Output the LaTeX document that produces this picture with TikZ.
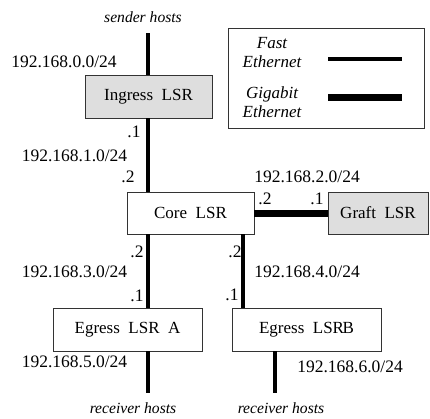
\documentclass[tikz,border=0pt]{standalone}
\usepackage{fontspec}
\setmainfont{Liberation Serif}
\begin{document}
\begin{tikzpicture}[x=1pt,y=-1pt,
  every node/.style={font=\fontsize{17.5}{19}\selectfont, inner sep=0pt},
  router/.style={draw=black!80, line width=0.8pt, minimum height=43pt, font=\fontsize{17}{19}\selectfont},
  graybox/.style={router, fill=black!13},
  fe/.style={line width=4pt},
  ge/.style={line width=7pt},
  addr/.style={anchor=center},
  host/.style={font=\itshape\fontsize{15.6}{17}\selectfont},
  legendtext/.style={font=\itshape\fontsize{17}{19}\selectfont, align=center}]
\useasboundingbox (0,0) rectangle (430,418);

% routers
\node[graybox, minimum width=127pt] (ingress) at (148.5,96.5) {Ingress\ \ LSR};
\node[router, minimum width=127pt, minimum height=42pt] (core) at (190.5,213) {Core\ \ LSR};
\node[graybox, minimum width=100pt, minimum height=42pt] (graft) at (378,213) {Graft\ \ LSR};
\node[router, minimum width=149pt] (egressA) at (127.5,329.5) {Egress\ \ LSR\ \ A};
\node[router, minimum width=149pt] (egressB) at (306.5,329.5) {Egress\ \ LSR\kern-1.5pt B};

% free ends of the host segments
\coordinate (sendtop) at (148,33);
\coordinate (recvA) at (148,393);
\coordinate (recvB) at (275,393);

% links
\draw[fe] (sendtop) -- (sendtop |- ingress.north);
\draw[fe] (ingress.south -| sendtop) -- (core.north -| sendtop);
\draw[ge] (core.east) -- (graft.west);
\draw[fe] (core.south -| sendtop) -- (egressA.north -| sendtop);
\coordinate (bx) at (243,0);
\draw[fe] (core.south -| bx) -- (egressB.north -| bx);
\draw[fe] (egressA.south -| recvA) -- (recvA);
\draw[fe] (egressB.south -| recvB) -- (recvB);

% host labels
\node[host] (snd) at (143,17) {sender hosts};
\node[host] (rcvA) at (133,408) {receiver hosts};
\node[host] (rcvB) at (281,408) {receiver hosts};

% subnets
\node[addr] (n0) at (64,62) {192.168.0.0/24};
\node[addr] (n1) at (74.5,156) {192.168.1.0/24};
\node[addr] (n2) at (307,177) {192.168.2.0/24};
\node[addr] (n3) at (74.5,272) {192.168.3.0/24};
\node[addr] (n4) at (307,272) {192.168.4.0/24};
\node[addr] (n5) at (74.5,362) {192.168.5.0/24};
\node[addr] (n6) at (350,367) {192.168.6.0/24};

% interface addresses
\node (i1) at (134,132) {.1};
\node (i2) at (128,177) {.2};
\node (i3) at (265,199) {.2};
\node (i4) at (317,199) {.1};
\node (i5) at (137,252) {.2};
\node (i6) at (235,252) {.2};
\node (i7) at (137,296) {.1};
\node (i8) at (232,295) {.1};

% legend
\node[draw=black!80, line width=0.8pt, minimum width=196pt, minimum height=100pt] (legend) at (326,78) {};
\node[legendtext] (lfast) at (272,53) {Fast\\Ethernet};
\node[legendtext] (lgig) at (272,102) {Gigabit\\Ethernet};
\coordinate (fa) at (328,59);
\coordinate (fb) at (402,59);
\coordinate (ga) at (328,97);
\coordinate (gb) at (402,97);
\draw[fe] (fa) -- (fb);
\draw[ge] (ga) -- (gb);
\end{tikzpicture}
\end{document}
